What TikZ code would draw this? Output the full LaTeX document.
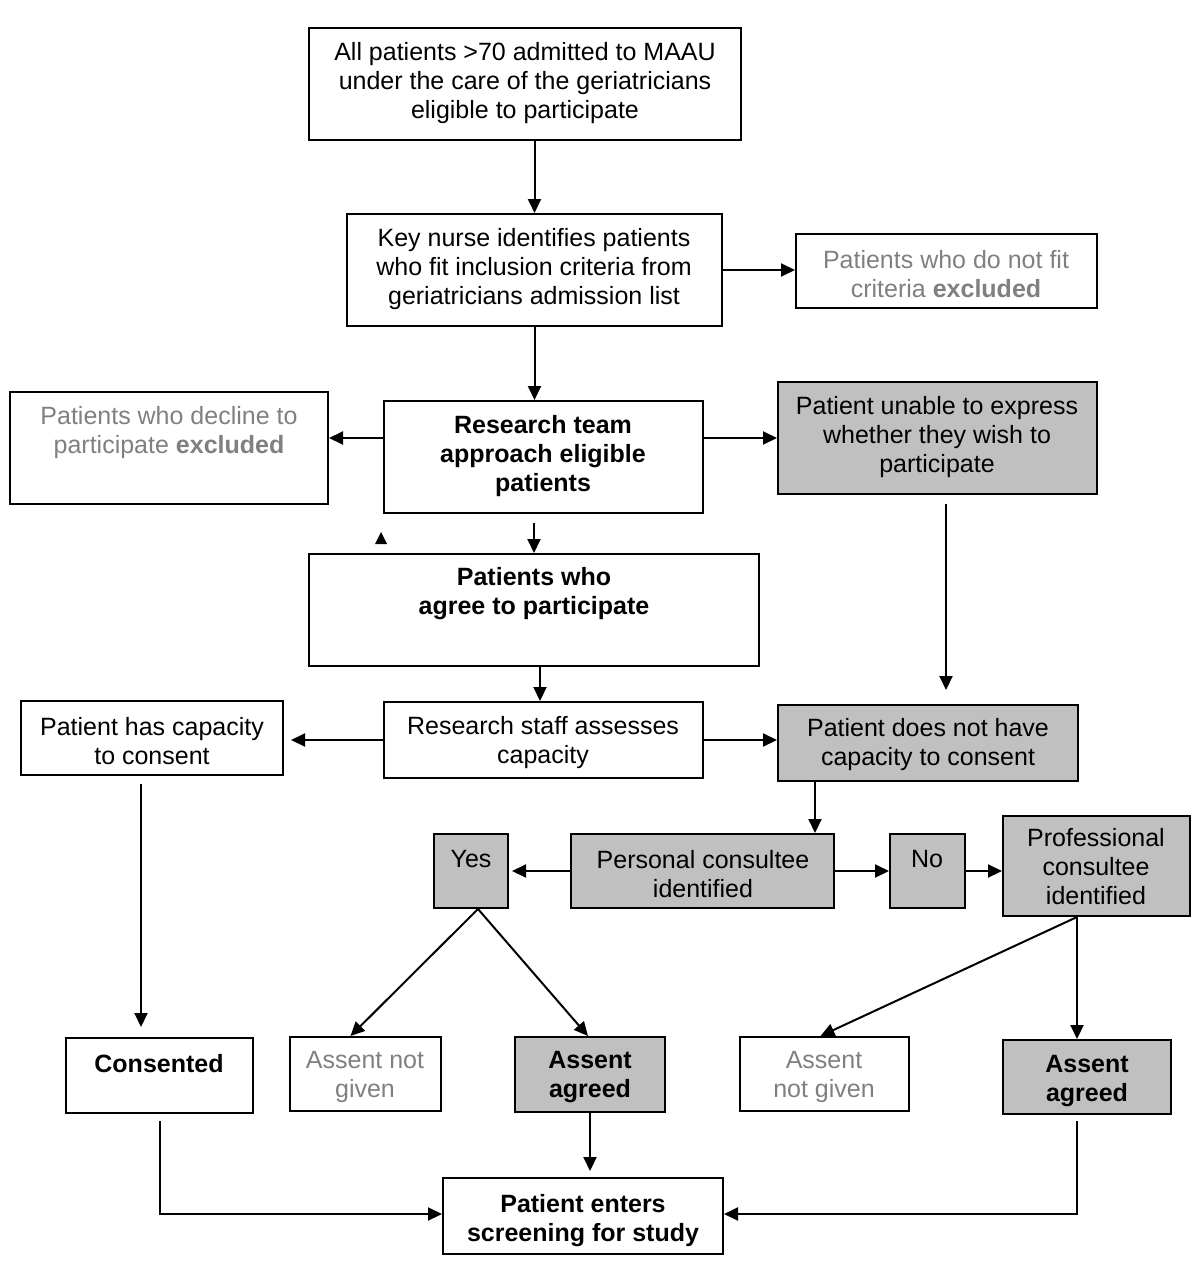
\documentclass[tikz,border=0pt]{standalone}
\usepackage{fontspec}
\setmainfont{Liberation Sans}
\usetikzlibrary{arrows.meta,calc}
\definecolor{boxgray}{HTML}{C0C0C0}
\definecolor{txtgray}{HTML}{808080}
\begin{document}
\begin{tikzpicture}[x=1pt,y=1pt,
  box/.style={draw=black,line width=2pt,inner sep=0pt,rectangle},
  gbox/.style={box,fill=boxgray},
  txt/.style={align=center,inner sep=0pt,font=\fontsize{25}{29}\selectfont},
  btxt/.style={txt,font=\fontsize{25}{29}\selectfont\bfseries},
  gtxt/.style={txt,text=txtgray},
  arr/.style={line width=2pt,-{Triangle[length=14pt,width=13pt]}},
  ln/.style={line width=2pt}]
\useasboundingbox (0,0) rectangle (1200,-1268);
\fill[white] (0,0) rectangle (1200,-1268);
% boxes
\node[box,minimum width=432,minimum height=112] (b1) at (525,-84) {};
\node[box,minimum width=375,minimum height=112] (b2) at (534.5,-270) {};
\node[box,minimum width=301,minimum height=74] (b3) at (946.5,-271) {};
\node[box,minimum width=318,minimum height=112] (b4) at (169,-448) {};
\node[box,minimum width=319,minimum height=112] (b5) at (543.5,-457) {};
\node[gbox,minimum width=319,minimum height=112] (b6) at (937.5,-438) {};
\node[box,minimum width=450,minimum height=112] (b7) at (534,-610) {};
\node[box,minimum width=262,minimum height=74] (b8) at (152,-738) {};
\node[box,minimum width=319,minimum height=76] (b9) at (543.5,-740) {};
\node[gbox,minimum width=300,minimum height=76] (b10) at (928,-743) {};
\node[gbox,minimum width=74,minimum height=74] (b11) at (471,-871) {};
\node[gbox,minimum width=263,minimum height=74] (b12) at (702.5,-871) {};
\node[gbox,minimum width=75,minimum height=74] (b13) at (927.5,-871) {};
\node[gbox,minimum width=187,minimum height=100] (b14) at (1096.5,-866) {};
\node[box,minimum width=187,minimum height=75] (b15) at (159.5,-1075.5) {};
\node[box,minimum width=151,minimum height=74] (b16) at (365.5,-1074) {};
\node[gbox,minimum width=150,minimum height=75] (b17) at (590,-1074.5) {};
\node[box,minimum width=169,minimum height=74] (b18) at (824.5,-1074) {};
\node[gbox,minimum width=168,minimum height=74] (b19) at (1087,-1077) {};
\node[box,minimum width=280,minimum height=76] (b20) at (583,-1216) {};
% texts
\node[txt] (t1) at (525,-83) {All patients >70 admitted to MAAU\\under the care of the geriatricians\\eligible to participate};
\node[txt] (t2) at (534,-269) {Key nurse identifies patients\\who fit inclusion criteria from\\geriatricians admission list};
\node[gtxt] (t3) at (946,-274) {Patients who do not fit\\criteria \textbf{excluded}};
\node[gtxt] (t4) at (169,-433) {Patients who decline to\\participate \textbf{excluded}};
\node[btxt] (t5) at (543,-456) {Research team\\approach eligible\\patients};
\node[txt] (t6) at (937,-437) {Patient unable to express\\whether they wish to\\participate};
\node[btxt] (t7) at (534,-594) {Patients who\\agree to participate};
\node[txt] (t8) at (152,-741) {Patient has capacity\\to consent};
\node[txt] (t9) at (543,-743) {Research staff assesses\\capacity};
\node[txt] (t10) at (928,-745) {Patient does not have\\capacity to consent};
\node[txt] (t11) at (471,-859) {Yes};
\node[txt] (t12) at (703,-874) {Personal consultee\\identified};
\node[txt] (t13) at (927,-859) {No};
\node[txt] (t14) at (1096,-867) {Professional\\consultee\\identified};
\node[btxt] (t15) at (159,-1064) {Consented};
\node[gtxt] (t16) at (365,-1077) {Assent not\\given};
\node[btxt] (t17) at (590,-1077) {Assent\\agreed};
\node[gtxt] (t18) at (824,-1077) {Assent\\not given};
\node[btxt] (t19) at (1087,-1081) {Assent\\agreed};
\node[btxt] (t20) at (583,-1221) {Patient enters\\screening for study};
% free-end coordinates
\coordinate (c6a) at (946,-504);
\coordinate (c6b) at (946,-690);
\coordinate (c8a) at (141,-784);
\coordinate (c8b) at (141,-1027);
\coordinate (c10) at (815,-781);
\coordinate (c11) at (478,-909);
\coordinate (c14) at (1077,-917);
% connectors
\draw[arr] (b1.south -| b2.north) -- (b2.north);
\draw[arr] (b2.east) -- (b3.west |- b2.east);
\draw[arr] (b2.south) -- (b2.south |- b5.north);
\draw[arr] (b5.west |- b6.west) -- (b4.east |- b6.west);
\draw[arr] (b5.east |- b6.west) -- (b6.west);
\draw[arr] ([yshift=-9pt]b5.south -| b7.north) -- (b7.north);
\fill (375,-544) -- (387,-544) -- (381,-532) -- cycle;
\draw[arr] (c6a) -- (c6b);
\draw[arr] ([xshift=6pt]b7.south) -- ([xshift=6pt]b7.south |- b9.north);
\draw[arr] (b9.west) -- ([xshift=7pt]b8.east |- b9.west);
\draw[arr] (b9.east) -- (b10.west |- b9.east);
\draw[arr] (c8a) -- (c8b);
\draw[arr] (c10) -- (c10 |- b12.north);
\draw[arr,shorten >=3pt] (b12.west) -- (b11.east);
\draw[arr] (b12.east) -- (b13.west);
\draw[arr] (b13.east) -- (b14.west |- b13.east);
\draw[arr] (c11) -- ([xshift=-15pt]b16.north);
\draw[arr] (c11) -- ([xshift=-2pt]b17.north);
\draw[arr] (c14) -- ([xshift=-4pt]b18.north);
\draw[arr] (c14) -- (c14 |- b19.north);
\draw[arr] (b17.south) -- ([yshift=6pt]b20.north -| b17.south);
\draw[arr] ([yshift=-7pt]b15.south) |- ([yshift=2pt]b20.west);
\draw[arr] ([yshift=-6pt]c14 |- b19.south) |- ([yshift=2pt]b20.east);
\end{tikzpicture}
\end{document}
